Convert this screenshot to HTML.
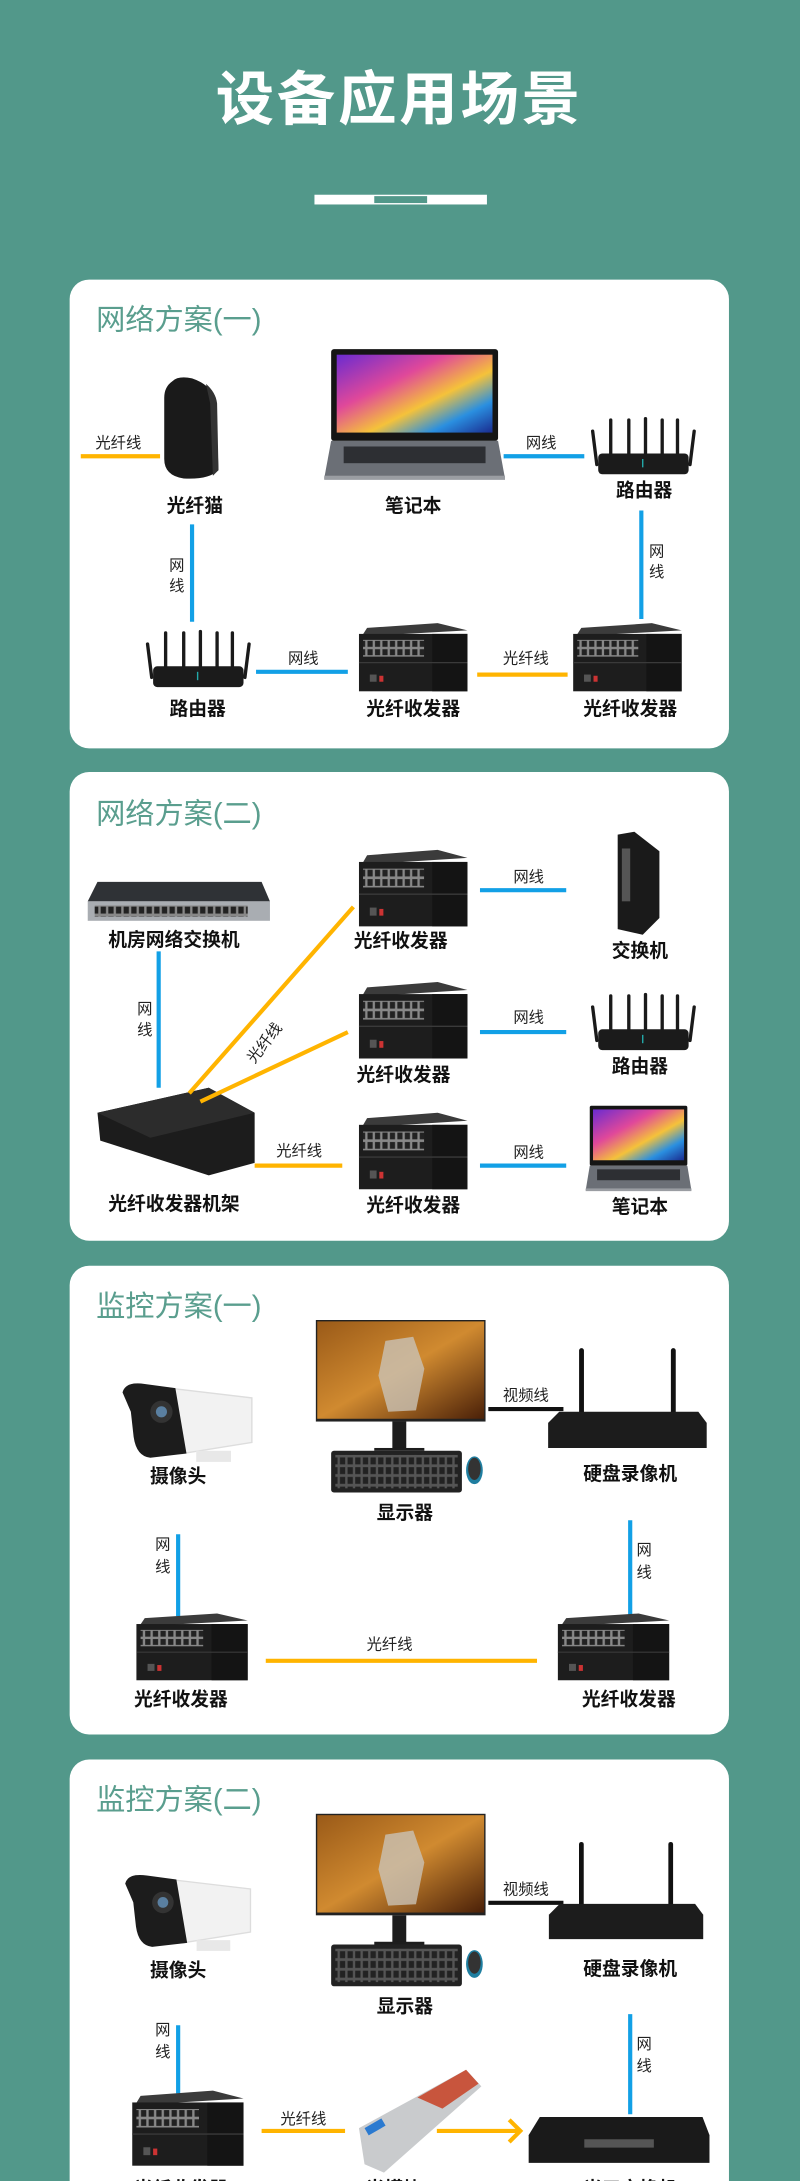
<!DOCTYPE html>
<html><head><meta charset="utf-8"><style>
html,body{margin:0;padding:0;background:#52988a;width:800px;height:2181px;overflow:hidden;}
svg{display:block;}
text{font-family:"Liberation Sans","Noto Sans CJK SC",sans-serif;}
.t{fill:#5a9e8e;font-size:21px;}
.l{fill:#111;font-size:13.5px;font-weight:bold;text-anchor:middle;}
.s{fill:#222;font-size:11px;text-anchor:middle;}
.b{stroke:#12a0e6;stroke-width:3;}
.o{stroke:#ffb400;stroke-width:3;}
</style></head><body>
<svg width="800" height="2181" viewBox="0 0 575 1568" xmlns="http://www.w3.org/2000/svg">
<defs>
<linearGradient id="scr" x1="0" y1="0" x2="1" y2="1"><stop offset="0" stop-color="#6a2bd0"/><stop offset="0.35" stop-color="#e0489a"/><stop offset="0.6" stop-color="#f5c23a"/><stop offset="0.8" stop-color="#2a8fe0"/><stop offset="1" stop-color="#1a2c90"/></linearGradient>
<linearGradient id="game" x1="0" y1="0" x2="1" y2="1"><stop offset="0" stop-color="#9a5a18"/><stop offset="0.5" stop-color="#d08a30"/><stop offset="1" stop-color="#4a2008"/></linearGradient>
<pattern id="ports" width="5.5" height="7" patternUnits="userSpaceOnUse"><rect width="5.5" height="7" fill="#888"/><rect x="0.8" y="0.8" width="3.8" height="5" fill="#222"/></pattern>
<symbol id="tr" viewBox="0 0 80 57" overflow="visible" preserveAspectRatio="none">
<polygon points="6,4 58,0 80,6 2,11" fill="#3b3b3b"/>
<rect x="0" y="9" width="80" height="48" fill="#1d1d1d"/>
<rect x="54" y="9" width="26" height="48" fill="#141414"/>
<rect x="3" y="14" width="45" height="14" fill="url(#ports)"/>
<line x1="0" y1="33" x2="80" y2="33" stroke="#3a3a3a"/>
<rect x="8" y="43" width="5" height="6" fill="#555"/><rect x="15" y="44" width="3" height="5" fill="#c33"/>
</symbol>
<symbol id="rt" viewBox="0 0 76 42" overflow="visible">
<g stroke="#1a1a1a" stroke-width="2.4" stroke-linecap="round">
<line x1="2" y1="10" x2="5" y2="34"/><line x1="15" y1="2" x2="15" y2="28"/><line x1="28" y1="2" x2="28" y2="28"/><line x1="40" y1="1" x2="40" y2="28"/><line x1="52" y1="2" x2="52" y2="28"/><line x1="63" y1="2" x2="63" y2="28"/><line x1="75" y1="10" x2="72" y2="34"/></g>
<rect x="6" y="26" width="65" height="15" rx="3" fill="#1b1b1b"/>
<line x1="38" y1="30" x2="38" y2="36" stroke="#2aa" stroke-width="1"/>
</symbol>
<symbol id="lp" viewBox="0 0 130 95" overflow="visible" preserveAspectRatio="none">
<rect x="5" y="0" width="120" height="66" rx="2" fill="#151515"/>
<rect x="9" y="4" width="112" height="56" fill="url(#scr)"/>
<polygon points="5,66 125,66 130,93 0,93" fill="#6b6f76"/>
<rect x="14" y="70" width="102" height="12" fill="#2d2f33"/>
<rect x="0" y="91" width="130" height="3" fill="#9a9da2"/>
</symbol>
<symbol id="cam" viewBox="0 0 95 58" overflow="visible">
<polygon points="10,2 95,12 95,44 45,52 20,52" fill="#f2f2f2" stroke="#ddd"/>
<path d="M2,8 Q4,0 18,2 L40,5 L48,52 L22,55 Q12,54 10,40 L8,22 Z" fill="#1c1c1c"/>
<circle cx="30" cy="22" r="8" fill="#333"/><circle cx="30" cy="22" r="4" fill="#5a7fa0"/>
<rect x="55" y="50" width="25" height="8" fill="#e8e8e8"/>
</symbol>
<symbol id="mon" viewBox="0 0 125 125" overflow="visible">
<rect x="0" y="0" width="122" height="73" fill="#222"/>
<rect x="1" y="1" width="120" height="70" fill="url(#game)"/>
<path d="M50,15 L70,12 L78,35 L72,65 L52,66 L45,40 Z" fill="#c9c2b5" opacity="0.8"/>
<rect x="55" y="73" width="10" height="20" fill="#1d1d1d"/>
<rect x="42" y="92" width="36" height="2" fill="#1d1d1d"/>
<rect x="11" y="94" width="94" height="30" rx="2" fill="#222"/>
<rect x="14" y="97" width="88" height="24" fill="url(#ports)" opacity="0.5"/>
<ellipse cx="114" cy="108" rx="6" ry="10" fill="#1f7ea0"/><ellipse cx="114" cy="107" rx="4.5" ry="8" fill="#333"/>
</symbol>
<symbol id="nvr" viewBox="0 0 115 75" overflow="visible">
<g stroke="#111" stroke-width="3.5" stroke-linecap="round"><line x1="24" y1="2" x2="24" y2="52"/><line x1="90" y1="2" x2="90" y2="52"/></g>
<polygon points="8,46 108,46 114,54 114,72 0,72 0,54" fill="#1c1c1c"/>
</symbol>
</defs>

<rect width="575" height="1568" fill="#52988a"/>
<text x="287" y="86" fill="#fff" font-size="42" font-weight="bold" text-anchor="middle" letter-spacing="2">设备应用场景</text>
<rect x="226" y="140" width="124" height="7" fill="#fff"/><rect x="269" y="141" width="38" height="5" fill="#52988a"/>

<!-- Panel 1 -->
<rect x="50" y="201" width="474" height="337" rx="14" fill="#fff"/>
<text class="t" x="69" y="237">网络方案(一)</text>
<path d="M124,274 Q128,270 138,272 Q150,276 155,286 L157,338 Q150,345 132,344 Q118,342 118,330 L118,286 Q118,278 124,274 Z" fill="#1a1a1a"/>
<path d="M148,276 Q155,282 156,290 L157,338 L153,342 L151,290 Z" fill="#333"/>
<line class="o" x1="58" y1="328" x2="115" y2="328"/><text class="s" x="85" y="322">光纤线</text>
<text class="l" x="140" y="368">光纤猫</text>
<use href="#lp" x="233" y="251" width="130" height="95"/>
<text class="l" x="297" y="368">笔记本</text>
<line class="b" x1="362" y1="328" x2="420" y2="328"/><text class="s" x="389" y="322">网线</text>
<use href="#rt" x="424" y="300" width="76" height="42"/>
<text class="l" x="463" y="357">路由器</text>
<line class="b" x1="461" y1="367" x2="461" y2="445"/><text class="s" x="472" y="400">网</text><text class="s" x="472" y="415">线</text>
<line class="b" x1="138" y1="377" x2="138" y2="447"/><text class="s" x="127" y="410">网</text><text class="s" x="127" y="425">线</text>
<use href="#rt" x="104" y="453" width="76" height="42"/>
<text class="l" x="142" y="514">路由器</text>
<line class="b" x1="184" y1="483" x2="250" y2="483"/><text class="s" x="218" y="477">网线</text>
<use href="#tr" x="258" y="448" width="78" height="49"/>
<text class="l" x="297" y="514">光纤收发器</text>
<line class="o" x1="343" y1="485" x2="408" y2="485"/><text class="s" x="378" y="477">光纤线</text>
<use href="#tr" x="412" y="448" width="78" height="49"/>
<text class="l" x="453" y="514">光纤收发器</text>

<!-- Panel 2 -->
<rect x="50" y="555" width="474" height="337" rx="14" fill="#fff"/>
<text class="t" x="69" y="592">网络方案(二)</text>
<polygon points="70,634 188,634 194,648 63,648" fill="#2f3236"/>
<rect x="63" y="648" width="131" height="14" fill="#a9adb2"/>
<rect x="68" y="651" width="110" height="8" fill="url(#ports)"/>
<text class="l" x="125" y="680">机房网络交换机</text>
<line class="b" x1="114" y1="684" x2="114" y2="782"/><text class="s" x="104" y="729">网</text><text class="s" x="104" y="744">线</text>
<polygon points="70,800 150,782 183,800 183,836 150,845 72,820" fill="#1c1c1c"/>
<polygon points="70,800 150,782 183,800 108,818" fill="#2c2c2c"/>
<text class="l" x="125" y="870">光纤收发器机架</text>
<line class="o" x1="136" y1="786" x2="254" y2="652"/>
<line class="o" x1="144" y1="792" x2="250" y2="742"/>
<text class="s" x="193" y="752" transform="rotate(-52 193 752)">光纤线</text>
<line class="o" x1="183" y1="838" x2="246" y2="838"/><text class="s" x="215" y="831">光纤线</text>
<use href="#tr" x="258" y="611" width="78" height="55"/>
<use href="#tr" x="258" y="706" width="78" height="55"/>
<use href="#tr" x="258" y="800" width="78" height="55"/>
<text class="l" x="288" y="681">光纤收发器</text>
<text class="l" x="290" y="777">光纤收发器</text>
<text class="l" x="297" y="871">光纤收发器</text>
<line class="b" x1="345" y1="640" x2="407" y2="640"/><text class="s" x="380" y="634">网线</text>
<line class="b" x1="345" y1="742" x2="407" y2="742"/><text class="s" x="380" y="735">网线</text>
<line class="b" x1="345" y1="838" x2="407" y2="838"/><text class="s" x="380" y="832">网线</text>
<polygon points="444,600 456,598 474,612 474,660 462,672 444,668" fill="#1a1a1a"/>
<rect x="447" y="610" width="6" height="38" fill="#555"/>
<text class="l" x="460" y="688">交换机</text>
<use href="#rt" x="424" y="714" width="76" height="42"/>
<text class="l" x="460" y="771">路由器</text>
<use href="#lp" x="421" y="795" width="76" height="62"/>
<text class="l" x="460" y="872">笔记本</text>

<!-- Panel 3 -->
<rect x="50" y="910" width="474" height="337" rx="14" fill="#fff"/>
<text class="t" x="69" y="946">监控方案(一)</text>
<use href="#cam" x="86" y="993" width="95" height="58"/>
<text class="l" x="128" y="1066">摄像头</text>
<use href="#mon" x="227" y="949" width="125" height="125"/>
<text class="l" x="291" y="1092">显示器</text>
<line x1="351" y1="1013" x2="405" y2="1013" stroke="#111" stroke-width="3"/><text class="s" x="378" y="1007">视频线</text>
<use href="#nvr" x="394" y="969" width="115" height="75"/>
<text class="l" x="453" y="1064">硬盘录像机</text>
<line class="b" x1="128" y1="1103" x2="128" y2="1162"/><text class="s" x="117" y="1114">网</text><text class="s" x="117" y="1130">线</text>
<line class="b" x1="453" y1="1093" x2="453" y2="1162"/><text class="s" x="463" y="1118">网</text><text class="s" x="463" y="1134">线</text>
<use href="#tr" x="98" y="1160" width="80" height="48"/>
<text class="l" x="130" y="1226">光纤收发器</text>
<line class="o" x1="191" y1="1194" x2="386" y2="1194"/><text class="s" x="280" y="1186">光纤线</text>
<use href="#tr" x="401" y="1160" width="80" height="48"/>
<text class="l" x="452" y="1226">光纤收发器</text>

<!-- Panel 4 -->
<rect x="50" y="1265" width="474" height="400" rx="14" fill="#fff"/>
<text class="t" x="69" y="1301">监控方案(二)</text>
<use href="#cam" x="88" y="1346" width="92" height="57"/>
<text class="l" x="128" y="1421">摄像头</text>
<use href="#mon" x="227" y="1304" width="125" height="125"/>
<text class="l" x="291" y="1447">显示器</text>
<line x1="351" y1="1368" x2="405" y2="1368" stroke="#111" stroke-width="3"/><text class="s" x="378" y="1362">视频线</text>
<use href="#nvr" x="394" y="1324" width="113" height="73"/>
<text class="l" x="453" y="1420">硬盘录像机</text>
<line class="b" x1="128" y1="1456" x2="128" y2="1505"/><text class="s" x="117" y="1463">网</text><text class="s" x="117" y="1479">线</text>
<line class="b" x1="453" y1="1448" x2="453" y2="1520"/><text class="s" x="463" y="1473">网</text><text class="s" x="463" y="1489">线</text>
<use href="#tr" x="95" y="1503" width="80" height="54"/>
<text class="l" x="130" y="1578">光纤收发器</text>
<line class="o" x1="188" y1="1532" x2="248" y2="1532"/><text class="s" x="218" y="1527">光纤线</text>
<polygon points="258,1530 335,1488 346,1500 276,1562 262,1556" fill="#c9cbcd"/>
<polygon points="300,1508 335,1488 344,1498 318,1516" fill="#c8553d"/>
<rect x="262" y="1530" width="14" height="6" fill="#2b7ad0" transform="rotate(-30 262 1530)"/>
<text class="l" x="283" y="1578">光模块</text>
<polyline points="314,1532 372,1532" fill="none" class="o"/><polyline points="366,1524 374,1532 366,1540" fill="none" class="o"/>
<polygon points="388,1522 505,1522 510,1535 510,1555 380,1555 380,1535" fill="#1a1a1a"/>
<rect x="420" y="1538" width="50" height="6" fill="#555"/>
<text class="l" x="453" y="1578">光口交换机</text>
</svg>
</body></html>
